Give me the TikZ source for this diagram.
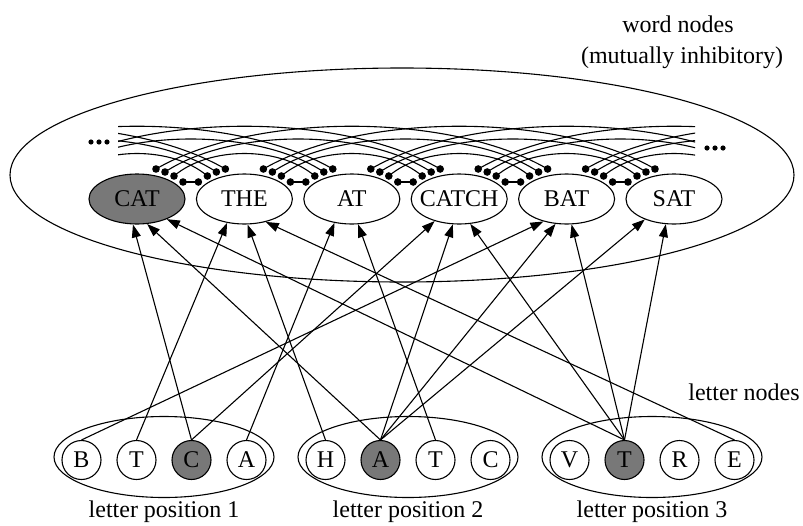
\documentclass[tikz,border=0pt]{standalone}
\usepackage{fontspec}
\setmainfont{Liberation Serif}
\usetikzlibrary{shapes.geometric, arrows.meta}
\definecolor{actgray}{RGB}{120,120,120}
\begin{document}
\begin{tikzpicture}[x=1pt,y=-1pt, line width=1.1pt,
  every node/.style={font=\fontsize{24}{29}\selectfont},
  wordnode/.style={draw, ellipse, minimum width=96pt, minimum height=50pt, inner sep=0pt},
  letnode/.style={draw, circle, minimum size=39pt, inner sep=0pt},
  grp/.style={draw, ellipse, minimum width=220pt, minimum height=81pt, inner sep=0pt},
  active/.style={fill=actgray},
  excite/.style={-{Triangle[length=13pt,width=9pt]}},
  txt/.style={anchor=base, inner sep=0pt}
]
\useasboundingbox (0,0) rectangle (803,525);

% pool of word nodes
\node[draw, ellipse, minimum width=784pt, minimum height=214pt, inner sep=0pt] (pool) at (402,175) {};
\node[txt] (t1) at (678,32) {word nodes};
\node[txt] (t2) at (682,63) {(mutually inhibitory)};

% word nodes
\node[wordnode, active] (wcat) at (137,199) {\makebox[0pt]{CAT}};
\node[wordnode] (wthe) at (244.4,199) {\makebox[0pt]{THE}};
\node[wordnode] (wat) at (351.8,199) {\makebox[0pt]{AT}};
\node[wordnode] (wcatch) at (459.2,199) {\makebox[0pt]{CATCH}};
\node[wordnode] (wbat) at (566.6,199) {\makebox[0pt]{BAT}};
\node[wordnode] (wsat) at (674,199) {\makebox[0pt]{SAT}};

% inhibitory arcs
\begin{scope}
\clip (118,100) rectangle (695,200);
\foreach \i in {-3,...,4} {
  \foreach \k/\dx/\dy/\h in {1/46/182/0, 2/37/176/30, 3/28/172/44, 4/19/169/57} {
    \pgfmathtruncatemacro{\j}{\i+\k}
    \ifnum\j>0
      \pgfmathsetmacro{\xa}{137+107.4*\i+\dx}
      \pgfmathsetmacro{\xb}{137+107.4*\j-\dx}
      \pgfmathsetmacro{\ca}{\xa+0.25*(\xb-\xa)}
      \pgfmathsetmacro{\cb}{\xb-0.25*(\xb-\xa)}
      \pgfmathsetmacro{\cy}{\dy-\h}
      \draw (\xa,\dy) .. controls (\ca,\cy) and (\cb,\cy) .. (\xb,\dy);
    \fi
  }
}
\end{scope}
\foreach \w in {0,...,5} {
  \foreach \k/\dx/\dy in {1/46/182, 2/37/176, 3/28/172, 4/19/169} {
    \ifnum\w<5 \fill (137+107.4*\w+\dx,\dy) circle (3.8pt); \fi
    \ifnum\w>0 \fill (137+107.4*\w-\dx,\dy) circle (3.8pt); \fi
  }
}
% ellipsis dots
\fill (91,142) circle (2.6pt) (99,142) circle (2.6pt) (107,142) circle (2.6pt);
\fill (707,148) circle (2.6pt) (715,148) circle (2.6pt) (723,148) circle (2.6pt);

% letter groups
\node[grp] (g1) at (164,457) {};
\node[grp] (g2) at (408,457) {};
\node[grp] (g3) at (652,457) {};
\node[txt] (lp1) at (164,517) {letter position 1};
\node[txt] (lp2) at (408,517) {letter position 2};
\node[txt] (lp3) at (652,517) {letter position 3};
\node[txt] (ln) at (744,400) {letter nodes};

\node[letnode] (b1) at (81.5,460) {B};
\node[letnode] (t1l) at (136.5,460) {T};
\node[letnode, active] (c1) at (191.5,460) {C};
\node[letnode] (a1) at (246.5,460) {A};
\node[letnode] (h2) at (325.5,460) {H};
\node[letnode, active] (a2) at (380.5,460) {A};
\node[letnode] (t2l) at (435.5,460) {T};
\node[letnode] (c2) at (490.5,460) {C};
\node[letnode] (v3) at (569.5,460) {V};
\node[letnode, active] (t3) at (624.5,460) {T};
\node[letnode] (r3) at (679.5,460) {R};
\node[letnode] (e3) at (734.5,460) {E};

% excitatory connections
\draw[excite] (c1.north) -- (wcat.-99);
\draw[excite] (a2.north) -- (wcat.-68);
\draw[excite] (t3.north) -- (wcat.-34.5);
\draw[excite] (t1l.north) -- (wthe.-126);
\draw[excite] (h2.north) -- (wthe.-83);
\draw[excite] (e3.north) -- (wthe.-47);
\draw[excite] (a1.north) -- (wat.-126);
\draw[excite] (t2l.north) -- (wat.-76);
\draw[excite] (c1.north) -- (wcatch.-138);
\draw[excite] (a2.north) -- (wcatch.-104);
\draw[excite] (t3.north) -- (wcatch.-66);
\draw[excite] (b1.north) -- (wbat.-136);
\draw[excite] (a2.north) -- (wbat.-114);
\draw[excite] (t3.north) -- (wbat.-79);
\draw[excite] (a2.north) -- (wsat.-145);
\draw[excite] (t3.north) -- (wsat.-108);
\end{tikzpicture}
\end{document}
